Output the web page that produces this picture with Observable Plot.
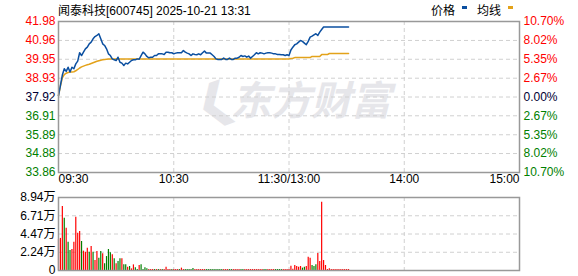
<!DOCTYPE html>
<html><head><meta charset="utf-8">
<script src="https://cdn.jsdelivr.net/npm/d3@7"></script>
<script src="https://cdn.jsdelivr.net/npm/@observablehq/plot@0.6"></script>
<style>
body{margin:0;background:#fff;}
#wrap{position:relative;width:578px;height:276px;font-family:"Liberation Sans","Noto Sans CJK SC",sans-serif;color:#000;}
#title{position:absolute;left:58px;top:1px;font-size:12px;white-space:nowrap;}
.lg{position:absolute;top:1px;font-size:12px;white-space:nowrap;}
.mk{position:absolute;top:6px;width:5px;height:3px;}
#topc{position:absolute;left:0;top:0;}
#volc{position:absolute;left:0;top:192px;}
</style></head>
<body>
<div id="wrap">
  <div id="topc"></div>
  <div id="volc"></div>
  <div id="title"></div>
  <div class="lg" id="lg1" style="left:431px"></div>
  <div class="mk" style="left:462px;background:#0b4fa0"></div>
  <div class="lg" id="lg2" style="left:477px"></div>
  <div class="mk" style="left:508px;background:#e3a21a"></div>
</div>
<script>
const titleText = "闻泰科技[600745] 2025-10-21 13:31";
const legendLabels = ["价格", "均线"];
const watermark = "东方财富";
const prevClose = 37.92;
const priceTicks = [41.98, 40.96, 39.95, 38.93, 37.92, 36.91, 35.89, 34.88, 33.86];
const pctLabels = ["10.70%", "8.02%", "5.35%", "2.67%", "0.00%", "2.67%", "5.35%", "8.02%", "10.70%"];
const timeTicks = [0, 60, 120, 180, 240];
const timeLabels = ["09:30", "10:30", "11:30/13:00", "14:00", "15:00"];
const volTicks = [0, 22350, 44700, 67050, 89400];
const volLabels = ["0", "2.24万", "4.47万", "6.71万", "8.94万"];

const price = [
38.00,38.54,39.10,39.44,39.30,39.52,39.26,39.52,39.44,39.70,
39.85,40.30,40.15,40.33,40.51,40.60,40.78,40.87,41.05,41.17,
41.23,41.32,41.05,40.78,40.69,40.51,40.24,40.15,39.97,39.92,
39.88,40.06,39.79,39.74,39.61,39.74,39.70,39.79,39.88,39.92,
39.92,39.97,39.95,40.15,40.33,40.24,40.10,40.03,40.06,40.06,
40.15,40.15,40.24,40.24,40.24,40.21,40.33,40.33,40.30,40.30,
40.24,40.28,40.30,40.30,40.30,40.42,40.33,40.28,40.24,40.15,
40.24,40.21,40.19,40.24,40.19,40.30,40.39,40.28,40.28,40.28,
40.19,40.10,39.97,39.94,39.94,39.94,40.01,39.94,39.94,40.01,
39.94,39.94,40.01,40.01,40.06,40.15,40.10,40.13,40.06,40.12,
40.01,40.10,40.19,40.30,40.24,40.30,40.28,40.24,40.28,40.30,
40.30,40.28,40.24,40.24,40.21,40.21,40.19,40.19,40.15,40.19,
40.15,40.45,40.60,40.73,40.78,40.87,40.96,40.91,40.82,40.73,
40.91,41.14,41.19,41.26,41.32,41.23,41.41,41.55,41.68,41.68,
41.68,41.68,41.68,41.68,41.68,41.68,41.68,41.68,41.68,41.68,
41.68,41.68];

const avg = [
38.00,38.50,38.95,39.12,39.20,39.24,39.26,39.26,39.28,39.33,
39.40,39.48,39.54,39.58,39.62,39.65,39.68,39.72,39.76,39.80,
39.84,39.87,39.90,39.92,39.94,39.95,39.96,39.97,39.97,39.97,
39.97,39.97,39.97,39.97,39.97,39.97,39.97,39.97,39.97,39.97,
39.97,39.97,39.97,39.97,39.97,39.97,39.97,39.97,39.97,39.97,
39.97,39.97,39.97,39.97,39.97,39.97,39.97,39.97,39.97,39.97,
39.97,39.97,39.97,39.97,39.97,39.97,39.97,39.97,39.97,39.97,
39.97,39.97,39.97,39.97,39.97,39.97,39.97,39.97,39.97,39.97,
39.97,39.97,39.97,39.97,39.97,39.97,39.97,39.97,39.97,39.97,
39.97,39.97,39.97,39.97,39.97,39.97,39.97,39.97,39.97,39.97,
39.97,39.97,39.97,39.97,39.97,39.97,39.97,39.97,39.97,39.97,
39.97,39.97,39.97,39.97,39.97,39.97,39.97,39.97,39.97,39.97,
39.97,39.99,40.00,40.04,40.04,40.04,40.04,40.04,40.04,40.04,
40.04,40.04,40.10,40.10,40.10,40.10,40.10,40.20,40.20,40.20,
40.20,40.26,40.26,40.26,40.26,40.26,40.26,40.26,40.26,40.26,
40.26,40.26];

const volume = [
38000,39300,78400,64000,51800,34700,24500,25700,34700,65300,
45700,47800,35500,23700,22500,27400,22500,29400,22500,12200,
23300,15100,23300,20400,8200,17100,25700,21600,19200,14300,
8200,11000,14300,14300,6900,6900,4100,4900,2000,6900,
3300,1200,6100,6900,1200,3300,2000,1200,1200,1200,
1200,1200,1200,1200,1200,1200,4100,1200,1200,1200,
1200,1200,1200,1200,2900,1200,1200,1200,1200,1200,
2500,1200,1200,1200,1200,1200,1200,1200,1200,1200,
1200,1200,1200,1200,1200,1200,1200,1200,1200,1200,
1200,1200,1200,1200,1200,1200,1200,1200,1200,1200,
1200,1200,1200,1200,1200,1200,1200,1200,1200,1200,
1200,1200,1200,1200,1200,1200,1200,1200,1200,1200,
1200,5300,1500,6000,4900,4100,4900,2900,4100,4900,
16300,15100,6100,4900,6900,20800,11000,83700,12200,6100,
1200,2000,1200,1200,1200,1200,1200,1200,1200,1200,
1200,1200];

// 1 = up (red), -1 = down (green)
const direction = [
1,1,1,-1,1,-1,-1,1,1,1,
1,1,-1,1,1,1,-1,1,-1,1,
1,-1,-1,1,-1,-1,-1,-1,1,-1,
1,-1,-1,1,-1,-1,1,-1,1,1,
-1,-1,1,-1,-1,-1,-1,1,1,1,
-1,1,-1,1,-1,1,1,1,1,-1,
1,1,1,-1,1,1,-1,-1,-1,-1,
-1,1,1,1,1,1,1,-1,-1,-1,
-1,-1,-1,-1,-1,-1,1,1,1,-1,
-1,1,1,1,1,-1,-1,1,1,1,
1,1,1,1,1,1,1,-1,-1,1,
1,1,1,-1,-1,-1,-1,1,1,1,
1,1,1,1,1,1,1,-1,-1,1,
1,1,-1,-1,-1,1,1,1,1,1,
1,1,1,1,1,1,1,1,1,1,
1,1];

const RED = "#ff0000", GREEN = "#008000", DARK = "#000033";
const PRICE_C = "#0b4fa0", AVG_C = "#e3a21a";
const GRID = "#d0d0d0", BORDER = "#999999";
const FONT = '"Liberation Sans","Noto Sans CJK SC",sans-serif';

document.getElementById("title").textContent = titleText;
document.getElementById("lg1").textContent = legendLabels[0];
document.getElementById("lg2").textContent = legendLabels[1];

const rows = price.map((p, i) => ({i, p, a: avg[i]}));
const vrows = volume.map((v, i) => ({i, v, d: direction[i]}));
const tcol = d => d > prevClose + 1e-9 ? RED : (d < prevClose - 1e-9 ? GREEN : DARK);

const xlab = (filter, anchor) => Plot.text(timeTicks.map((t, k) => ({t, k})).filter(filter), {
  x: "t", frameAnchor: "bottom", dy: 10, textAnchor: anchor, text: d => timeLabels[d.k], fill: "#000"
});

const topChart = Plot.plot({
  width: 578, height: 192,
  marginTop: 21, marginBottom: 20, marginLeft: 58, marginRight: 59,
  x: {domain: [0, 240], axis: null},
  y: {domain: [33.86, 41.98], axis: null},
  style: {fontFamily: FONT, fontSize: "12px", background: "transparent", overflow: "visible"},
  marks: [
    Plot.text([watermark], {frameAnchor: "middle", dx: 22, dy: 5, fontSize: 40, fontWeight: "bold", fontStyle: "italic", fill: "#e6e6ea", fontFamily: '"Noto Sans CJK SC",sans-serif', letterSpacing: "-1px"}),
    Plot.text(["❮"], {frameAnchor: "middle", dx: -74, dy: 5, fontSize: 44, fontWeight: "bold", fill: "#e6e6ea", rotate: -20}),
    Plot.ruleY(priceTicks.slice(1, -1), {stroke: GRID, strokeDasharray: "4,3"}),
    Plot.ruleX(timeTicks.slice(1, -1), {stroke: GRID, strokeDasharray: "4,3"}),
    Plot.line(rows, {x: "i", y: "a", stroke: AVG_C, strokeWidth: 1.5}),
    Plot.line(rows, {x: "i", y: "p", stroke: PRICE_C, strokeWidth: 1.5}),
    Plot.frame({stroke: BORDER, strokeWidth: 1.5}),
    Plot.text(priceTicks, {y: d => d, frameAnchor: "left", textAnchor: "end", dx: -3, text: d => d.toFixed(2), fill: d => tcol(d)}),
    Plot.text(priceTicks, {y: d => d, frameAnchor: "right", textAnchor: "start", dx: 4, text: (d, i) => pctLabels[i], fill: d => tcol(d)}),
    xlab(d => d.k === 0, "start"),
    xlab(d => d.k > 0 && d.k < timeTicks.length - 1, "middle"),
    xlab(d => d.k === timeTicks.length - 1, "end")
  ]
});
document.getElementById("topc").appendChild(topChart);

const volChart = Plot.plot({
  width: 578, height: 84,
  marginTop: 5, marginBottom: 6, marginLeft: 58, marginRight: 59,
  x: {domain: [0, 240], axis: null},
  y: {domain: [0, 89400], axis: null},
  style: {fontFamily: FONT, fontSize: "12px", background: "transparent", overflow: "visible"},
  marks: [
    Plot.ruleY(volTicks.slice(1, -1), {stroke: GRID, strokeDasharray: "4,3"}),
    Plot.ruleX(timeTicks.slice(1, -1), {stroke: GRID, strokeDasharray: "4,3"}),
    Plot.ruleX(vrows, {x: "i", y1: 0, y2: "v", stroke: d => d.d > 0 ? RED : GREEN, strokeWidth: 1.2}),
    Plot.frame({stroke: BORDER, strokeWidth: 1.5}),
    Plot.text(volTicks, {y: d => d, frameAnchor: "left", textAnchor: "end", dx: -3, text: (d, i) => volLabels[i], fill: "#000"})
  ]
});
document.getElementById("volc").appendChild(volChart);
</script>
</body></html>
